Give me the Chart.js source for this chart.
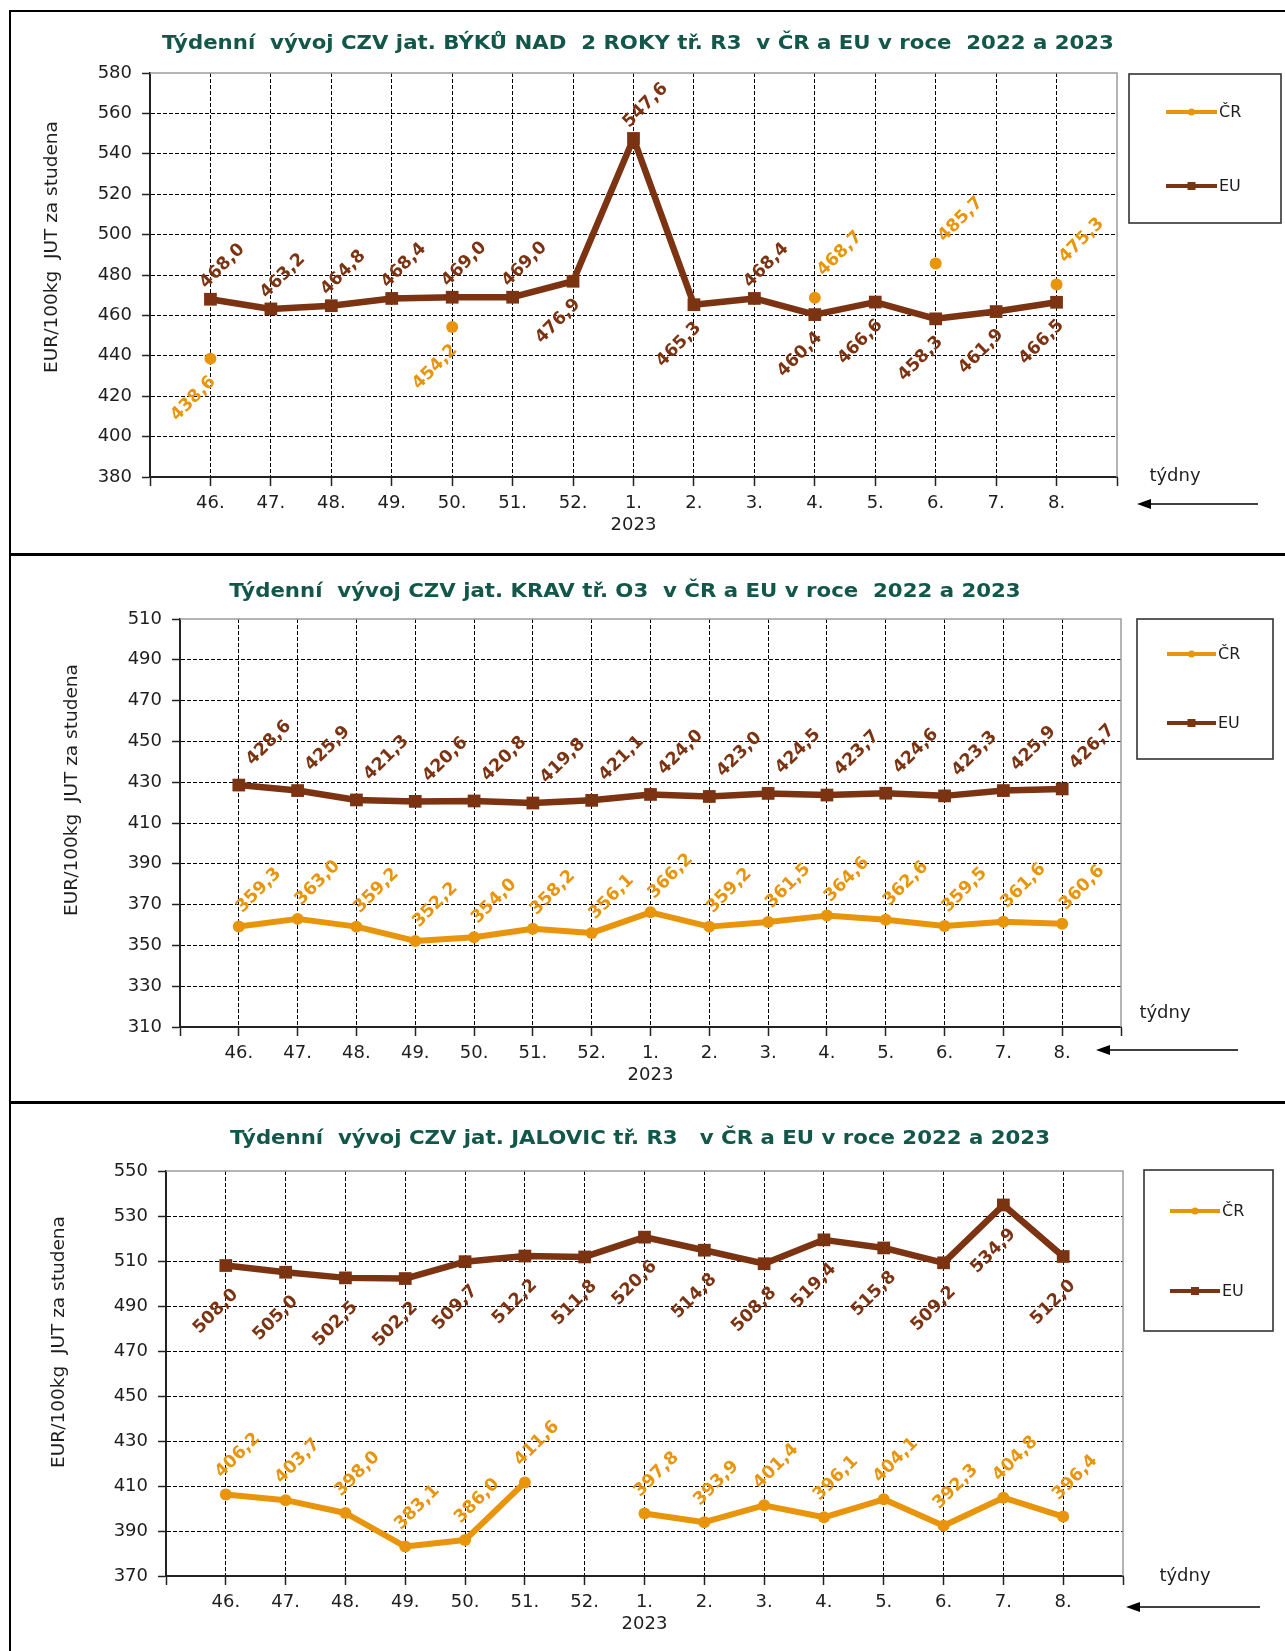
<!DOCTYPE html>
<html lang="cs">
<head>
<meta charset="utf-8">
<title>Týdenní vývoj CZV</title>
<script src="https://cdn.jsdelivr.net/npm/chart.js@4.4.1/dist/chart.umd.min.js"></script>
<style>
html, body { margin: 0; padding: 0; background: #fff; }
body { width: 1285px; height: 1651px; position: relative; overflow: hidden; }
.frame { position: absolute; left: 9px; top: 10px; width: 1300px; height: 1700px; border: 2px solid #000; box-sizing: border-box; }
.sep { position: absolute; left: 9px; width: 1290px; height: 3px; background: #000; }
canvas { position: absolute; left: 0; }
</style>
</head>
<body>
<div class="frame"></div>
<div class="sep" style="top:553px"></div>
<div class="sep" style="top:1101px"></div>
<canvas id="c1" width="1285" height="540" style="top:12px"></canvas>
<canvas id="c2" width="1285" height="543" style="top:557px"></canvas>
<canvas id="c3" width="1285" height="547" style="top:1104px"></canvas>
<script>
// tydny 46.-52. 2022 a 1.-8. 2023
const weeks = ['46.', '47.', '48.', '49.', '50.', '51.', '52.', ['1.', '2023'], '2.', '3.', '4.', '5.', '6.', '7.', '8.'];

// byci nad 2 roky R3
const bykCR = [438.6, null, null, null, 454.2, null, null, null, null, null, 468.7, null, 485.7, null, 475.3];
const bykEU = [468.0, 463.2, 464.8, 468.4, 469.0, 469.0, 476.9, 547.6, 465.3, 468.4, 460.4, 466.6, 458.3, 461.9, 466.5];

// krávy O3
const kravCR = [359.3, 363.0, 359.2, 352.2, 354.0, 358.2, 356.1, 366.2, 359.2, 361.5, 364.6, 362.6, 359.5, 361.6, 360.6];
const kravEU = [428.6, 425.9, 421.3, 420.6, 420.8, 419.8, 421.1, 424.0, 423.0, 424.5, 423.7, 424.6, 423.3, 425.9, 426.7];

// jalovice R3
const jalCR = [406.2, 403.7, 398.0, 383.1, 386.0, 411.6, null, 397.8, 393.9, 401.4, 396.1, 404.1, 392.3, 404.8, 396.4];
const jalEU = [508.0, 505.0, 502.5, 502.2, 509.7, 512.2, 511.8, 520.6, 514.8, 508.8, 519.4, 515.8, 509.2, 534.9, 512.0];

// kde je popisek: nad (a) / pod (b) bodem
const bykCRPos = ['b', 0, 0, 0, 'b', 0, 0, 0, 0, 0, 'a', 0, 'a', 0, 'a'];
const bykEUPos = ['a', 'a', 'a', 'a', 'a', 'a', 'b', 'a', 'b', 'a', 'b', 'b', 'b', 'b', 'b'];

const CR_COLOR = '#E8950B';
const EU_COLOR = '#7B3312';
const FONT = '"DejaVu Sans", Verdana, sans-serif';

// prázdná kategorie na obou koncích osy
const pad = a => [null, ...a, null];
const fill = (n, v) => Array(n).fill(v);

const fmt = v => v.toFixed(1).replace('.', ',');

const sheet = {
  id: 'sheet',
  beforeDatasetsDraw(chart, args, o) {
    const {ctx, chartArea: a} = chart;
    ctx.save();
    ctx.strokeStyle = '#9c9c9c';
    ctx.lineWidth = 1.5;
    ctx.beginPath();
    ctx.moveTo(a.left, a.top);
    ctx.lineTo(a.right, a.top);
    ctx.lineTo(a.right, a.bottom);
    ctx.stroke();
    ctx.restore();
  },
  afterDraw(chart, args, o) {
    const {ctx} = chart;
    ctx.save();

    // nadpis
    ctx.fillStyle = '#125749';
    ctx.font = 'bold 19px ' + FONT;
    ctx.textAlign = 'center';
    ctx.textBaseline = 'middle';
    ctx.save();
    ctx.translate(o.title[1], o.title[2]);
    ctx.scale(1.12, 1);
    ctx.fillText(o.title[0], 0, 0);
    ctx.restore();

    // popis osy y
    ctx.fillStyle = '#1e1e1e';
    ctx.font = '18.5px ' + FONT;
    ctx.save();
    ctx.translate(o.yTitle[1], o.yTitle[2]);
    ctx.rotate(-Math.PI / 2);
    ctx.fillText(o.yTitle[0], 0, 0);
    ctx.restore();

    // týdny + šipka
    ctx.font = '18px ' + FONT;
    ctx.fillText('týdny', o.tydny[0], o.tydny[1]);
    const [ax1, ax2, ay] = o.arrow;
    ctx.strokeStyle = '#000';
    ctx.lineWidth = 1.6;
    ctx.beginPath();
    ctx.moveTo(ax1, ay);
    ctx.lineTo(ax2 + 10, ay);
    ctx.stroke();
    ctx.fillStyle = '#000';
    ctx.beginPath();
    ctx.moveTo(ax2, ay);
    ctx.lineTo(ax2 + 14, ay - 5);
    ctx.lineTo(ax2 + 14, ay + 5);
    ctx.closePath();
    ctx.fill();

    // legenda
    const [lx1, ly1, lx2, ly2] = o.legendBox;
    ctx.strokeStyle = '#333';
    ctx.lineWidth = 1.6;
    ctx.strokeRect(lx1, ly1, lx2 - lx1, ly2 - ly1);
    ctx.font = '16px ' + FONT;
    ctx.textAlign = 'left';
    chart.data.datasets.forEach((ds, i) => {
      const y = o.legendY[i];
      const [x1, x2] = o.legendX;
      ctx.strokeStyle = ds.borderColor;
      ctx.lineWidth = 4;
      ctx.beginPath();
      ctx.moveTo(x1, y);
      ctx.lineTo(x2, y);
      ctx.stroke();
      ctx.fillStyle = ds.borderColor;
      ctx.beginPath();
      if (ds.pointStyle === 'rect') ctx.rect((x1 + x2) / 2 - 4, y - 4, 8, 8);
      else ctx.arc((x1 + x2) / 2, y, 3.5, 0, Math.PI * 2);
      ctx.fill();
      ctx.fillStyle = '#1e1e1e';
      ctx.fillText(ds.label, x2 + 2, y + 1);
    });

    // popisky hodnot
    ctx.font = 'bold 17.5px ' + FONT;
    ctx.textAlign = 'center';
    chart.data.datasets.forEach((ds, i) => {
      const meta = chart.getDatasetMeta(i);
      const off = o.offsets[i];
      ctx.fillStyle = ds.borderColor;
      meta.data.forEach((el, j) => {
        const v = ds.data[j];
        if (v == null) return;
        const d = off[ds.labelPos[j]];
        ctx.save();
        ctx.translate(el.x + d[0], el.y + d[1]);
        ctx.rotate(-Math.PI / 4);
        ctx.fillText(fmt(v), 0, 0);
        ctx.restore();
      });
    });

    ctx.restore();
  }
};

function makeChart(id, cfg) {
  const last = weeks.length + 1;
  const edge = c => c.index === 0 || c.index === last;
  return new Chart(document.getElementById(id), {
    type: 'line',
    data: {
      labels: pad(weeks).map(l => l == null ? '' : l),
      datasets: [
        {
          label: 'ČR',
          data: pad(cfg.cr),
          labelPos: pad(cfg.crPos),
          borderColor: CR_COLOR,
          backgroundColor: CR_COLOR,
          borderWidth: 6,
          borderJoinStyle: 'round',
          pointStyle: 'circle',
          pointRadius: 6,
          pointBorderWidth: 0,
          tension: 0
        },
        {
          label: 'EU',
          data: pad(cfg.eu),
          labelPos: pad(cfg.euPos),
          borderColor: EU_COLOR,
          backgroundColor: EU_COLOR,
          borderWidth: 6.5,
          borderJoinStyle: 'round',
          pointStyle: 'rect',
          pointRadius: 9,
          pointBorderWidth: 0,
          tension: 0
        }
      ]
    },
    options: {
      responsive: false,
      animation: false,
      events: [],
      layout: { padding: { left: 0, top: cfg.area[1], right: 1285 - cfg.area[2], bottom: 0 } },
      plugins: {
        legend: { display: false },
        tooltip: { enabled: false },
        sheet: cfg.sheet
      },
      scales: {
        x: {
          offset: false,
          grid: {
            color: c => edge(c) ? 'rgba(0,0,0,0)' : '#000',
            lineWidth: 1,
            tickColor: '#222',
            tickWidth: 1.5,
            tickLength: 9
          },
          border: { color: '#222', width: 2, dash: [4, 2] },
          ticks: {
            autoSkip: false,
            maxRotation: 0,
            padding: 7,
            color: '#1e1e1e',
            font: { family: FONT, size: 18 }
          },
          afterFit: s => { s.height = cfg.canvasH - cfg.area[3]; }
        },
        y: {
          min: cfg.y[0],
          max: cfg.y[1],
          grid: {
            color: c => c.tick && c.tick.value === cfg.y[1] ? 'rgba(0,0,0,0)' : '#000',
            lineWidth: 1,
            tickColor: '#222',
            tickWidth: 1.5,
            tickLength: 8
          },
          border: { color: '#222', width: 2, dash: [4, 2] },
          ticks: {
            stepSize: 20,
            padding: 10,
            color: '#1e1e1e',
            font: { family: FONT, size: 18 }
          },
          afterFit: s => { s.width = cfg.area[0]; }
        }
      }
    },
    plugins: [sheet]
  });
}

const Y_TITLE = 'EUR/100kg  JUT za studena';

makeChart('c1', {
  cr: bykCR, eu: bykEU,
  crPos: bykCRPos, euPos: bykEUPos,
  y: [380, 580],
  canvasH: 540,
  area: [150, 61, 1117, 465],
  sheet: {
    title: ['Týdenní  vývoj CZV jat. BÝKŮ NAD  2 ROKY tř. R3  v ČR a EU v roce  2022 a 2023', 638, 32],
    yTitle: [Y_TITLE, 52, 235],
    tydny: [1175, 464],
    arrow: [1258, 1137, 492],
    legendBox: [1129, 62, 1281, 211],
    legendX: [1166, 1217],
    legendY: [100, 174],
    offsets: [ { a: [25, -44], b: [-17, 40] }, { a: [12, -33], b: [-15, 40] } ]
  }
});

makeChart('c2', {
  cr: kravCR, eu: kravEU,
  crPos: fill(15, 'a'), euPos: fill(15, 'a'),
  y: [310, 510],
  canvasH: 543,
  area: [180, 62, 1121, 470],
  sheet: {
    title: ['Týdenní  vývoj CZV jat. KRAV tř. O3  v ČR a EU v roce  2022 a 2023', 625, 35],
    yTitle: [Y_TITLE, 72, 233],
    tydny: [1165, 456],
    arrow: [1238, 1096, 493],
    legendBox: [1137, 62, 1273, 202],
    legendX: [1167, 1216],
    legendY: [97, 166],
    offsets: [ { a: [20, -36] }, { a: [30, -42] } ]
  }
});

makeChart('c3', {
  cr: jalCR, eu: jalEU,
  crPos: fill(15, 'a'), euPos: fill(15, 'b'),
  y: [370, 550],
  canvasH: 547,
  area: [166, 67, 1123, 472],
  sheet: {
    title: ['Týdenní  vývoj CZV jat. JALOVIC tř. R3   v ČR a EU v roce 2022 a 2023', 640, 35],
    yTitle: [Y_TITLE, 59, 238],
    tydny: [1185, 472],
    arrow: [1260, 1126, 503],
    legendBox: [1144, 66, 1273, 227],
    legendX: [1170, 1220],
    legendY: [107, 187],
    offsets: [ { a: [12, -39] }, { b: [-10, 46] } ]
  }
});
</script>
</body>
</html>
